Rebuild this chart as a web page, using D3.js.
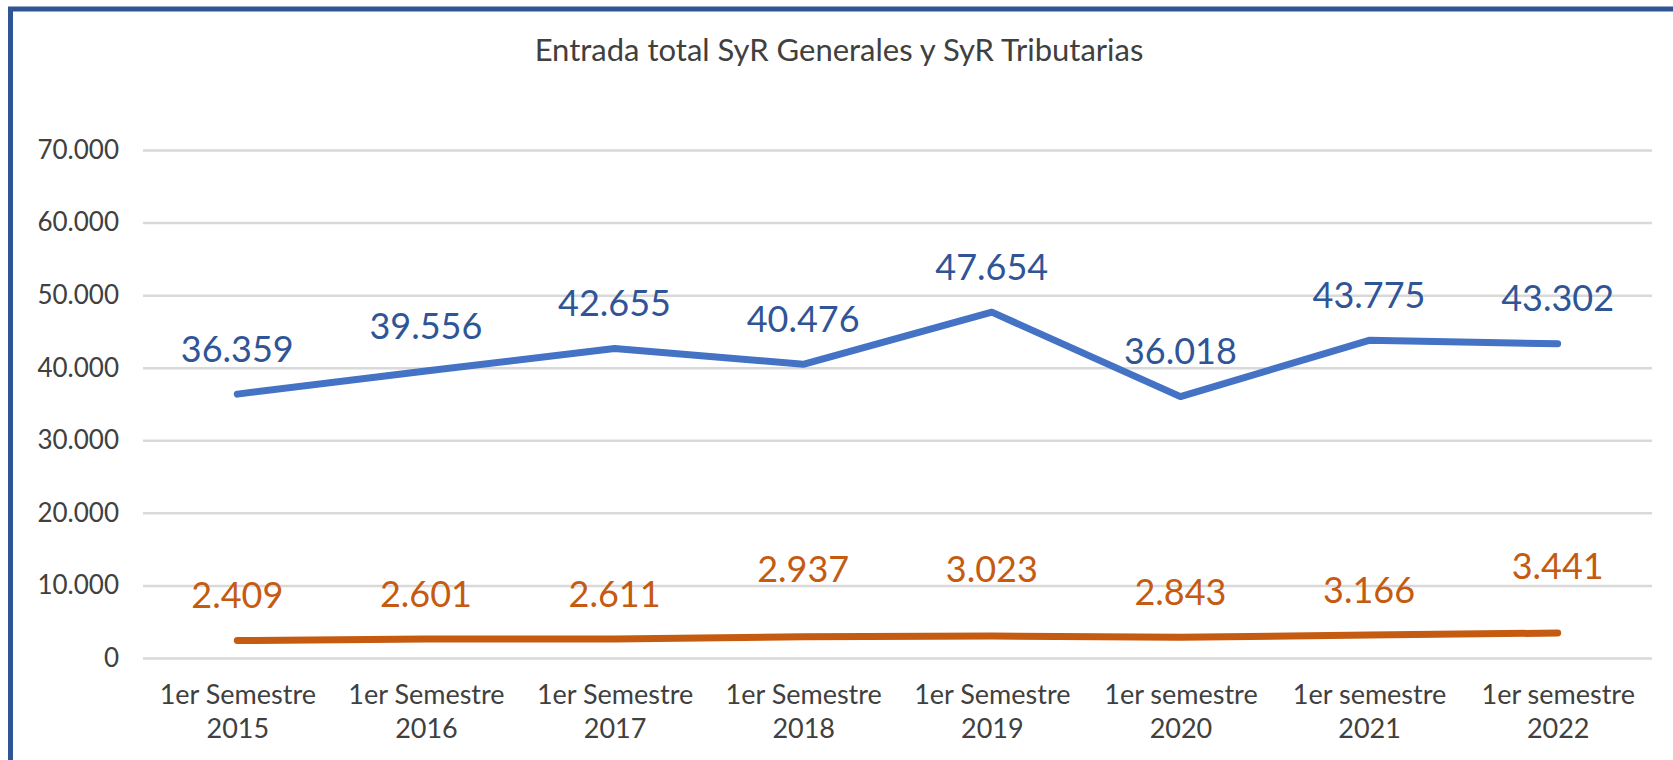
<!DOCTYPE html>
<html>
<head>
<meta charset="utf-8">
<script src="https://cdn.jsdelivr.net/npm/d3@7"></script>
<style>
  body { margin: 0; background: #fff; }
  svg { display: block; font-family: Lato, "Open Sans", sans-serif; }
</style>
</head>
<body>
<div id="plot"></div>
<script>
// Chart data
var categories = ["1er Semestre 2015", "1er Semestre 2016", "1er Semestre 2017", "1er Semestre 2018",
                  "1er Semestre 2019", "1er semestre 2020", "1er semestre 2021", "1er semestre 2022"];
var generales = [36359, 39556, 42655, 40476, 47654, 36018, 43775, 43302];
var tributarias = [2409, 2601, 2611, 2937, 3023, 2843, 3166, 3441];
var yTicks = [0, 10000, 20000, 30000, 40000, 50000, 60000, 70000];
var title = "Entrada total SyR Generales y SyR Tributarias";

// Layout
var W = 1673, H = 760;
var plot = {left: 143, right: 1652, top: 150, bottom: 658};
// some orange labels were moved up by hand in the original
var orangeLift = [0, 0, 0, 22, 22, 0, 0, 22];

var loc = d3.formatLocale({decimal: ",", thousands: ".", grouping: [3], currency: ["", ""]});
var fmt = loc.format(",d");

var svg = d3.select("#plot")
  .append("svg")
    .attr("width", W)
    .attr("height", H);

// Frame (only top and left edges visible)
svg.append("rect")
  .attr("x", 10.5)
  .attr("y", 9)
  .attr("width", 3000)
  .attr("height", 3000)
  .attr("fill", "none")
  .attr("stroke", "#2F5597")
  .attr("stroke-width", 5);

// Title
svg.append("text")
  .attr("x", 839)
  .attr("y", 61)
  .attr("text-anchor", "middle")
  .style("font-size", "31px")
  .style("fill", "#404040")
  .text(title);

var x = d3.scalePoint()
  .domain(categories)
  .range([plot.left, plot.right])
  .padding(0.5);

var y = d3.scaleLinear()
  .domain([0, 70000])
  .range([plot.bottom, plot.top]);

// Y axis with gridlines
var yAxis = svg.append("g")
  .attr("transform", `translate(${plot.left},0)`)
  .call(d3.axisLeft(y)
    .tickValues(yTicks)
    .tickSize(-(plot.right - plot.left))
    .tickPadding(24)
    .tickFormat(d => fmt(d)));
yAxis.select(".domain").remove();
yAxis.selectAll(".tick line")
  .attr("stroke", "#D9D9D9")
  .attr("stroke-width", 2.5);
yAxis.selectAll(".tick text")
  .style("font-size", "26px")
  .style("font-family", "Lato")
  .attr("fill", "#404040");

// X axis labels, two lines
var xAxis = svg.append("g")
  .attr("transform", `translate(0,${plot.bottom})`)
  .call(d3.axisBottom(x).tickSize(0).tickFormat(""));
xAxis.select(".domain").remove();
xAxis.selectAll(".tick").each(function(d) {
  var i = d.lastIndexOf(" ");
  var t = d3.select(this).append("text")
    .attr("text-anchor", "middle")
    .attr("fill", "#404040")
    .style("font-size", "27px")
    .style("font-family", "Lato");
  t.append("tspan").attr("x", 0).attr("y", 46).text(d.slice(0, i));
  t.append("tspan").attr("x", 0).attr("y", 80).text(d.slice(i + 1));
});

var line = d3.line()
  .x((d, i) => x(categories[i]))
  .y(d => y(d));

function drawSeries(values, lineColor, labelColor, lift) {
  svg.append("path")
    .datum(values)
    .attr("fill", "none")
    .attr("stroke", lineColor)
    .attr("stroke-width", 7)
    .attr("stroke-linecap", "round")
    .attr("stroke-linejoin", "round")
    .attr("d", line);

  svg.append("g")
    .selectAll("text")
    .data(values)
    .join("text")
      .attr("x", (d, i) => x(categories[i]))
      .attr("y", (d, i) => y(d) - 45 - (lift ? lift[i] : 0))
      .attr("dy", "0.35em")
      .attr("text-anchor", "middle")
      .style("font-size", "36px")
      .attr("fill", labelColor)
      .text(d => fmt(d));
}

drawSeries(generales, "#4472C4", "#2F5597", null);
drawSeries(tributarias, "#C55A11", "#C55A11", orangeLift);
</script>
</body>
</html>
